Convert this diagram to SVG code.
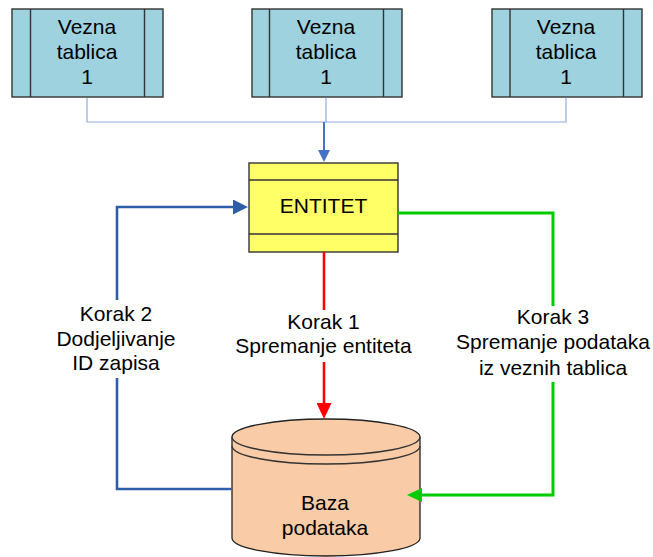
<svg xmlns="http://www.w3.org/2000/svg" width="653" height="557" viewBox="0 0 653 557">
  <style>
    .lbl { font-family: "Liberation Sans", Arial, sans-serif; font-size: 21px; fill: #000; text-anchor: middle; }
    .link { fill: #9dd2de; stroke: #333; stroke-width: 1.4; }
    .sep { stroke: #333; stroke-width: 1.4; fill: none; }
    .ent { fill: #ffff66; stroke: #333; stroke-width: 1.4; }
    .db { fill: #f9cba6; stroke: #222; stroke-width: 1.3; }
    .thin { fill: none; stroke: #8faadc; stroke-width: 1.2; }
    .wire { fill: none; stroke-linejoin: miter; }
  </style>
  <defs>
    <marker id="ahBlueS" markerUnits="userSpaceOnUse" markerWidth="12" markerHeight="12" refX="0" refY="6" orient="auto">
      <path d="M0,0 L12,6 L0,12 z" fill="#4472c4"/>
    </marker>
    <marker id="ahBlue" markerUnits="userSpaceOnUse" markerWidth="15" markerHeight="15" refX="0" refY="7.5" orient="auto">
      <path d="M0,0 L15,7.5 L0,15 z" fill="#2e5ea8"/>
    </marker>
    <marker id="ahRed" markerUnits="userSpaceOnUse" markerWidth="16" markerHeight="15" refX="0" refY="7.5" orient="auto">
      <path d="M0,0 L16,7.5 L0,15 z" fill="#ff0000"/>
    </marker>
    <marker id="ahGreen" markerUnits="userSpaceOnUse" markerWidth="15" markerHeight="14" refX="0" refY="7" orient="auto">
      <path d="M0,0 L15,7 L0,14 z" fill="#00cc00"/>
    </marker>
  </defs>

  <!-- linked tables -->
  <g id="link1">
    <rect class="link" x="12" y="9" width="151" height="88"/>
    <path class="sep" d="M30.5,9 V97 M144.5,9 V97"/>
    <text class="lbl" x="87" y="34">Vezna</text>
    <text class="lbl" x="87" y="59">tablica</text>
    <text class="lbl" x="87" y="84">1</text>
  </g>
  <g id="link2">
    <rect class="link" x="252" y="9" width="150" height="88"/>
    <path class="sep" d="M269.5,9 V97 M383.5,9 V97"/>
    <text class="lbl" x="326" y="34">Vezna</text>
    <text class="lbl" x="326" y="59">tablica</text>
    <text class="lbl" x="326" y="84">1</text>
  </g>
  <g id="link3">
    <rect class="link" x="492" y="9" width="150" height="88"/>
    <path class="sep" d="M510,9 V97 M623.5,9 V97"/>
    <text class="lbl" x="566" y="34">Vezna</text>
    <text class="lbl" x="566" y="59">tablica</text>
    <text class="lbl" x="566" y="84">1</text>
  </g>

  <!-- entity -->
  <g id="entitet">
    <rect class="ent" x="249" y="163" width="149" height="89"/>
    <path class="sep" d="M249,180 H398 M249,234 H398"/>
    <text class="lbl" x="323.5" y="213">ENTITET</text>
  </g>

  <!-- database -->
  <g id="baza">
    <path class="db" d="M232,437 A94,18 0 0 1 420,437 V538 A94,18 0 0 1 232,538 Z"/>
    <path class="sep" d="M232,437 A94,18 0 0 0 420,437 M232,446 A94,18 0 0 0 420,446" stroke="#222" stroke-width="1.3"/>
    <text class="lbl" x="325" y="510">Baza</text>
    <text class="lbl" x="325" y="535">podataka</text>
  </g>

  <!-- connectors (drawn over the nodes so arrowheads stay visible) -->
  <g id="connectors">
    <path class="thin" d="M87,98 V122 H566 V98 M326,98 V122"/>
    <path class="wire" d="M324,122 V150" stroke="#4472c4" stroke-width="2" marker-end="url(#ahBlueS)"/>
    <path class="wire" d="M232,489 H117 V207 H233" stroke="#2e5ea8" stroke-width="2.6" marker-end="url(#ahBlue)"/>
    <path class="wire" d="M324,252 V403" stroke="#ff0000" stroke-width="2.6" marker-end="url(#ahRed)"/>
    <path class="wire" d="M398,213 H553 V495 H422" stroke="#00cc00" stroke-width="3" marker-end="url(#ahGreen)"/>
  </g>

  <!-- step labels -->
  <g id="korak2">
    <rect x="40" y="300" width="140" height="78" fill="#fff"/>
    <text class="lbl" x="116" y="321">Korak 2</text>
    <text class="lbl" x="116" y="346">Dodjeljivanje</text>
    <text class="lbl" x="116" y="370">ID zapisa</text>
  </g>
  <g id="korak1">
    <rect x="232" y="310" width="184" height="52" fill="#fff"/>
    <text class="lbl" x="323.5" y="328.5">Korak 1</text>
    <text class="lbl" x="323.5" y="352.5">Spremanje entiteta</text>
  </g>
  <g id="korak3">
    <rect x="454" y="306" width="198" height="76" fill="#fff"/>
    <text class="lbl" x="553" y="323.5">Korak 3</text>
    <text class="lbl" x="553" y="348.5">Spremanje podataka</text>
    <text class="lbl" x="553" y="375">iz veznih tablica</text>
  </g>
</svg>
